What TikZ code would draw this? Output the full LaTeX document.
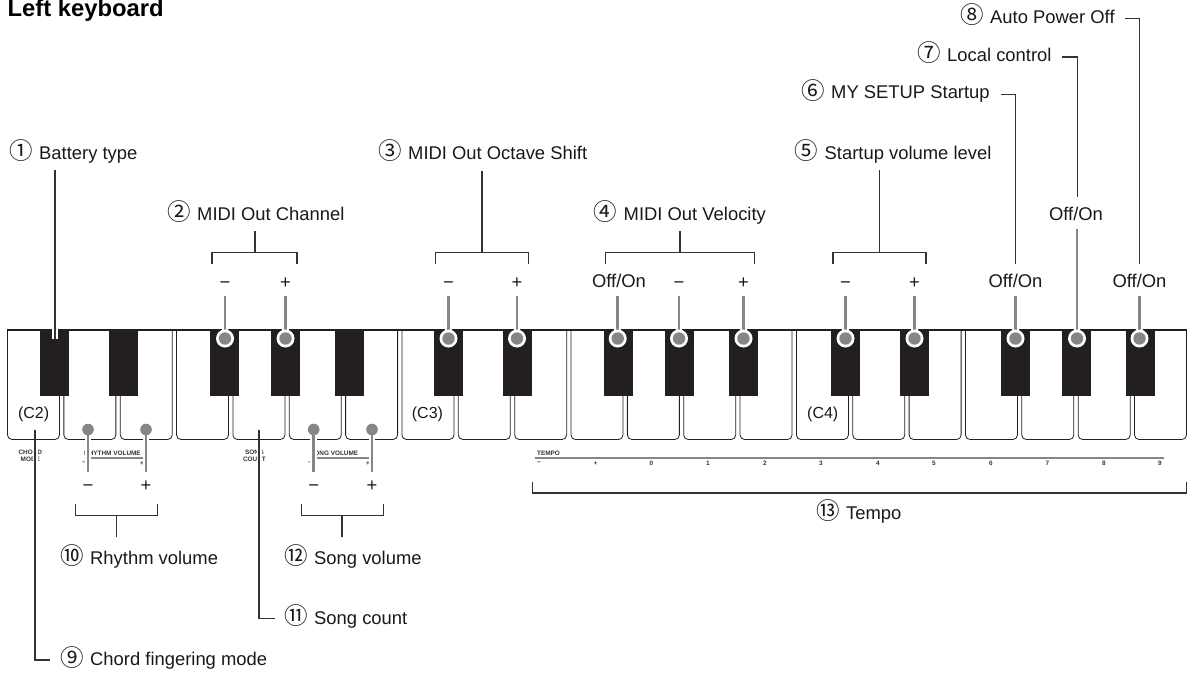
\documentclass[tikz,border=0pt]{standalone}
\usepackage{fontspec}
\setmainfont{Liberation Sans}
\newfontfamily\cfont{Noto Sans CJK JP}
\definecolor{keyblack}{HTML}{231F20}
\definecolor{pingray}{HTML}{85868A}
\definecolor{lead}{HTML}{333335}
\newcommand{\lab}[2]{\makebox[30pt][l]{\raisebox{-0.5pt}{\cfont\fontsize{23.5}{24}\selectfont #1}}#2}
\tikzset{
  whitekey/.style={draw=keyblack,fill=white,line width=0.8pt,rounded corners=4.5pt},
  blackkey/.style={fill=keyblack,draw=none},
  leadline/.style={draw=lead,line width=1.15pt},
  halo/.style={draw=white,line width=6.6pt},
  pinline/.style={draw=pingray,line width=2.6pt},
  callout/.style={anchor=base west,inner sep=0pt,font=\fontsize{18.4}{20}\selectfont,text=black!90},
  sign/.style={anchor=base,inner sep=0pt,font=\fontsize{18.4}{20}\selectfont,text=black!90},
  tiny/.style={inner sep=0pt,font=\fontsize{6.4}{7.2}\selectfont\bfseries,text=black!80,align=center},
  tinynum/.style={inner sep=0pt,font=\fontsize{6.4}{7}\selectfont\bfseries,text=black!80},
}
\begin{document}
\begin{tikzpicture}[x=1pt,y=-1pt]
\useasboundingbox (0,0) rectangle (1198,672);
% white keys
\foreach \i in {0,...,20}{
  \pgfmathsetmacro{\xa}{7.5+56.35*\i}
  \pgfmathsetmacro{\xb}{\xa+52}
  \draw[whitekey] (\xa,320) -- (\xa,439.5) -- (\xb,439.5) -- (\xb,320);
}
\fill[white] (0,310) rectangle (1198,330);
\draw[draw=keyblack,line width=1.2pt] (7,330) -- (1187,330);
% black keys
\foreach \x in {40,109,210,271,335,434,503,604,665,729,831,900,1001,1062,1126}{
  \fill[blackkey] (\x,330) rectangle (\x+29,396);
}
% key note labels
\node[callout,font=\fontsize{16}{17}\selectfont] (c2) at (17.8,418.8) {(C2)};
\node[callout,font=\fontsize{16}{17}\selectfont] (c3) at (411.7,418.8) {(C3)};
\node[callout,font=\fontsize{16}{17}\selectfont] (c4) at (807,418.8) {(C4)};
% small printed panel texts
\node[tiny] (chord) at (30.3,456) {CHORD\\MODE};
\node[tiny] (songc) at (254.5,456) {SONG\\COUNT};
\node[tiny,anchor=base west] (rv) at (84,455) {RHYTHM VOLUME};
\node[tiny,anchor=base west] (sv) at (310,455) {SONG VOLUME};
\node[tiny,anchor=base west] (tp) at (537,455) {TEMPO};
\draw[draw=pingray,line width=1.4pt] (91,458) -- (143,458);
\draw[draw=pingray,line width=1.4pt] (317,458) -- (369,458);
\draw[draw=pingray,line width=1.4pt] (535,458) -- (1164,458);
\node[tinynum] (rm) at (84,463.5) {−};
\node[tinynum] (rp) at (142,463.5) {+};
\node[tinynum] (sm) at (310,463.5) {−};
\node[tinynum] (sp) at (368,463.5) {+};
\node[tinynum] (tm) at (539,463.5) {−};
\node[tinynum] (tpl) at (595.5,463.5) {+};
\foreach \x/\t in {651.5/0,708/1,765/2,821/3,878/4,934/5,991/6,1047.5/7,1104/8,1160/9}{
  \node[tinynum] (t\t) at (\x,463.5) {\t};
}
% callouts
\node[font=\fontsize{23.8}{26}\selectfont\bfseries,anchor=base west,inner sep=0pt] (title) at (7.5,16.5) {Left keyboard};
\node[callout] (l1) at (9,159) {\lab{①}{Battery type}};
\node[callout] (l2) at (167,220) {\lab{②}{MIDI Out Channel}};
\node[callout] (l3) at (378,159) {\lab{③}{MIDI Out Octave Shift}};
\node[callout] (l4) at (593.5,220) {\lab{④}{MIDI Out Velocity}};
\node[callout] (l5) at (794.5,159) {\lab{⑤}{Startup volume level}};
\node[callout] (l6) at (801,98.5) {\lab{⑥}{MY SETUP Startup}};
\node[callout] (l7) at (917,61) {\lab{⑦}{Local control}};
\node[callout] (l8) at (960,23) {\lab{⑧}{Auto Power Off}};
\node[callout] (l9) at (60,665.7) {\lab{⑨}{Chord fingering mode}};
\node[callout] (l10) at (60,564) {\lab{⑩}{Rhythm volume}};
\node[callout] (l11) at (284,624) {\lab{⑪}{Song count}};
\node[callout] (l12) at (284,564) {\lab{⑫}{Song volume}};
\node[callout] (l13) at (816,519) {\lab{⑬}{Tempo}};
% signs above the keyboard
\node[sign] (s2m) at (225,288) {−};
\node[sign] (s2p) at (285.5,288) {+};
\node[sign] (s3m) at (448.5,288) {−};
\node[sign] (s3p) at (517,288) {+};
\node[sign] (s4o) at (619,287) {Off/On};
\node[sign] (s4m) at (679,288) {−};
\node[sign] (s4p) at (743.5,288) {+};
\node[sign] (s5m) at (845.5,288) {−};
\node[sign] (s5p) at (914.5,288) {+};
\node[sign] (s6o) at (1015.5,287) {Off/On};
\node[sign] (s7o) at (1076,220) {Off/On};
\node[sign] (s8o) at (1139.5,287) {Off/On};
% signs below the keyboard
\node[sign] (s10m) at (88,491) {−};
\node[sign] (s10p) at (146,491) {+};
\node[sign] (s12m) at (313.7,491) {−};
\node[sign] (s12p) at (372,491) {+};
% upper pins
\foreach \n/\x/\y in {p2m/225/296,p2p/285.5/296,p3m/448.5/296,p3p/517/296,p4o/617.7/296,p4m/679/296,p4p/743.5/296,p5m/845.5/296,p5p/914.5/296,p6o/1015.5/296,p7o/1077/229,p8o/1139.5/296}{
  \coordinate (\n top) at (\x,\y);
  \coordinate (\n) at (\x,338.5);
  \draw[halo] (\x,322) -- (\n);
  \draw[pinline] (\n top) -- (\n);
  \fill[white] (\n) circle[radius=9];
  \fill[pingray] (\n) circle[radius=6.2];
}
% lower pins
\foreach \n/\x in {p10m/88,p10p/146,p12m/313.7,p12p/372}{
  \coordinate (\n) at (\x,429.5);
  \coordinate (\n bot) at (\x,472);
  \draw[halo] (\n) -- (\n bot);
  \draw[pinline] (\n) -- (\n bot);
  \fill[pingray] (\n) circle[radius=5.8];
}
% battery pin
\coordinate (bt) at (55,170);
\coordinate (bb) at (55,338.5);
\draw[draw=white,line width=6.6pt] (55,325) -- (bb);
\draw[leadline] (bt) -- (bb);
% chord and song count leaders
\coordinate (chA) at (35,430);
\coordinate (chB) at (35,660);
\coordinate (chC) at (49.7,660);
\coordinate (scA) at (259,430);
\coordinate (scB) at (259,618.3);
\coordinate (scC) at (274.7,618.3);
\draw[draw=white,line width=5pt] (35,448) -- (35,466);
\draw[draw=white,line width=5pt] (259,448) -- (259,466);
\draw[leadline,line width=1.4pt] (chA) -- (chB) -- (chC);
\draw[leadline] (scA) -- (scB) -- (scC);
% off/on leaders
\coordinate (a6) at (1000.7,94.5);
\coordinate (b6) at (1015.5,94.5);
\coordinate (c6) at (1015.5,264);
\draw[leadline] (a6) -- (b6) -- (c6);
\coordinate (a7) at (1062,57);
\coordinate (b7) at (1077.5,57);
\coordinate (c7) at (1077.5,197);
\draw[leadline] (a7) -- (b7) -- (c7);
\coordinate (a8) at (1125,18.5);
\coordinate (b8) at (1139.5,18.5);
\coordinate (c8) at (1139.5,264);
\draw[leadline] (a8) -- (b8) -- (c8);
% brackets above
\foreach \n/\xa/\xb/\xs/\ys in {b2/212/297/255/231,b3/435.7/528.3/482/170.7,b4/605.3/754.7/680/231,b5/833/926/879.5/170}{
  \coordinate (\n l) at (\xa,264);
  \coordinate (\n r) at (\xb,264);
  \coordinate (\n s) at (\xs,\ys);
  \coordinate (\n m) at (\xs,252.3);
  \draw[leadline] (\n l) -- (\xa,252.3) -- (\xb,252.3) -- (\n r);
  \draw[leadline] (\n s) -- (\n m);
}
% brackets below
\foreach \n/\xa/\xb/\xs in {b10/75.7/157.7/116.3,b12/301.7/383.7/342}{
  \coordinate (\n l) at (\xa,504);
  \coordinate (\n r) at (\xb,504);
  \coordinate (\n s) at (\xs,537.3);
  \coordinate (\n m) at (\xs,515.3);
  \draw[leadline] (\n l) -- (\xa,515.3) -- (\xb,515.3) -- (\n r);
  \draw[leadline] (\n s) -- (\n m);
}
% tempo bracket
\coordinate (tl) at (532.7,481.7);
\coordinate (tr) at (1186.7,481.7);
\draw[leadline] (tl) -- (532.7,493) -- (1186.7,493) -- (tr);
\end{tikzpicture}
\end{document}
